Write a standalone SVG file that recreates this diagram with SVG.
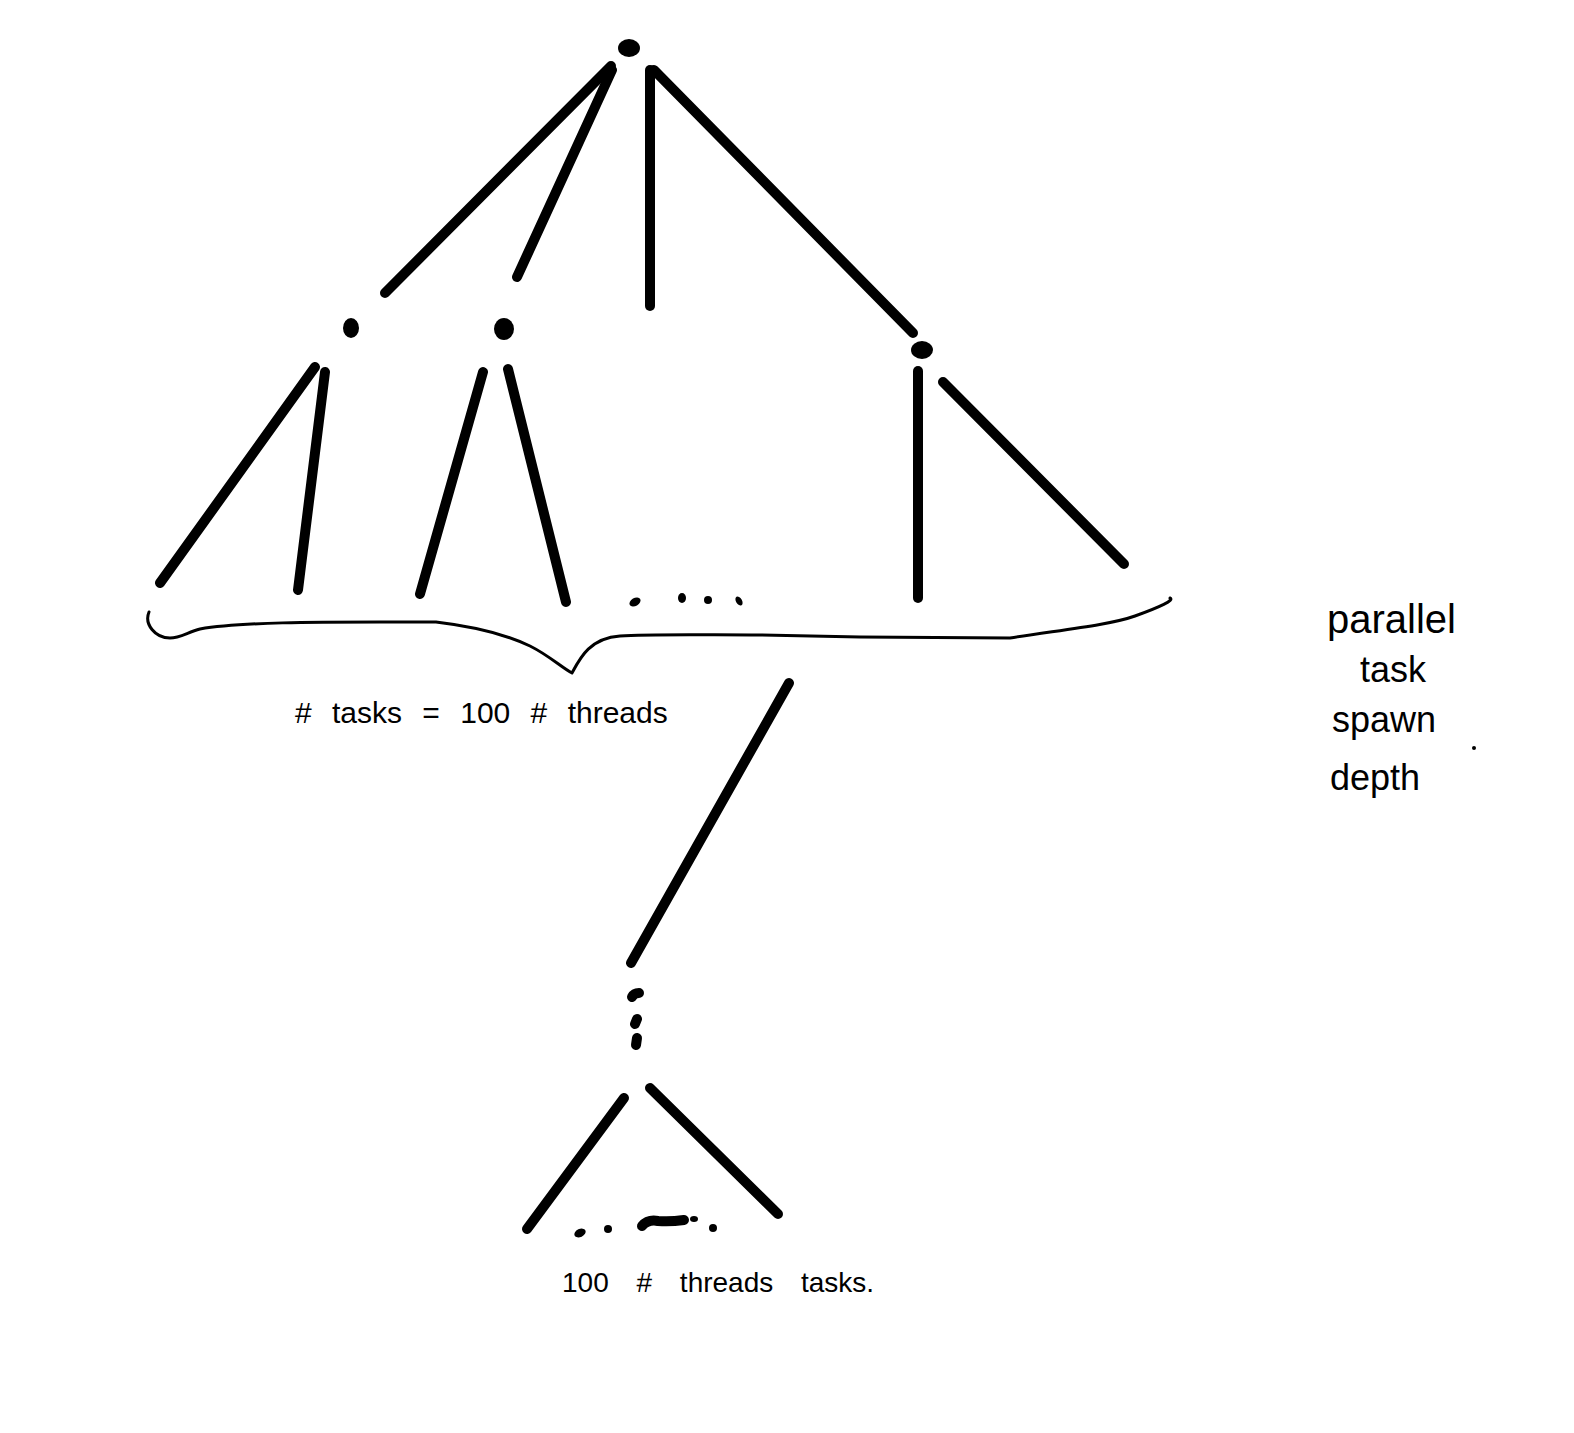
<svg xmlns="http://www.w3.org/2000/svg" width="1574" height="1433" viewBox="0 0 1574 1433">
<style>
.e{stroke:#000;stroke-width:10;stroke-linecap:round;fill:none}
.b{stroke:#000;stroke-width:3;fill:none;stroke-linecap:round;stroke-linejoin:round}
.t{font-family:"Liberation Sans",sans-serif;fill:#000}
</style>
<rect width="1574" height="1433" fill="#fff"/>
<g id="edges">
<line class="e" x1="611" y1="66" x2="385" y2="293"/>
<line class="e" x1="612" y1="70" x2="517" y2="277"/>
<line class="e" x1="650" y1="70" x2="650" y2="306"/>
<line class="e" x1="654" y1="70" x2="913" y2="333"/>
<line class="e" x1="315" y1="367" x2="160" y2="583"/>
<line class="e" x1="325" y1="372" x2="298" y2="590"/>
<line class="e" x1="483" y1="372" x2="420" y2="594"/>
<line class="e" x1="508" y1="369" x2="566" y2="602"/>
<line class="e" x1="918" y1="371" x2="918" y2="598"/>
<line class="e" x1="943" y1="382" x2="1124" y2="564"/>
<line class="e" x1="789" y1="683" x2="631" y2="963"/>
<line class="e" x1="624" y1="1098" x2="527" y2="1229"/>
<line class="e" x1="650" y1="1088" x2="778" y2="1214"/>
</g>
<g id="node-root"><ellipse cx="629" cy="48" rx="11" ry="9"/></g>
<g id="node-a"><ellipse cx="351" cy="328" rx="8" ry="10"/></g>
<g id="node-b"><ellipse cx="504" cy="329" rx="10" ry="11"/></g>
<g id="node-c"><ellipse cx="922" cy="350" rx="11" ry="9"/></g>
<g id="dots-mid">
<ellipse cx="635" cy="602" rx="6" ry="4" transform="rotate(-30 635 602)"/>
<ellipse cx="682" cy="598" rx="4" ry="5"/>
<ellipse cx="708" cy="600" rx="4" ry="4"/>
<ellipse cx="739" cy="601" rx="3" ry="5" transform="rotate(-30 739 601)"/>
</g>
<g id="brace">
<path class="b" d="M149 612 C144 624 155 638 170 638 C180 638 188 632 200 629 C240 622 320 622 380 622 L436 622 C470 626 505 634 530 646 C550 656 562 668 572 673 C580 658 590 638 620 636 C650 634 700 635 760 635 L860 637 L1010 638 C1060 630 1110 625 1135 616 C1160 607 1175 600 1170 598"/>
</g>
<g id="dots-vert">
<path class="e" d="M632 997 Q634 993 639 993" stroke-width="7"/>
<line class="e" x1="637" y1="1019" x2="635" y2="1024" stroke-width="7"/>
<line class="e" x1="637" y1="1038" x2="636" y2="1045" stroke-width="7"/>
</g>
<g id="dots-bottom">
<ellipse cx="580" cy="1233" rx="6" ry="4" transform="rotate(-25 580 1233)"/>
<ellipse cx="608" cy="1229" rx="4" ry="4"/>
<path class="e" d="M642 1226 Q648 1219 658 1221 Q670 1222 684 1220" stroke-width="6"/>
<ellipse cx="694" cy="1219" rx="4" ry="3"/>
<ellipse cx="713" cy="1228" rx="4" ry="4"/>
</g>
<g id="labels">
<text class="t" x="295" y="723" font-size="30" word-spacing="12">#  tasks  =  100 # threads</text>
<text class="t" x="562" y="1292" font-size="28" word-spacing="20">100 # threads  tasks.</text>
<text class="t" x="1327" y="633" font-size="40">parallel</text>
<text class="t" x="1360" y="682" font-size="36">task</text>
<text class="t" x="1332" y="732" font-size="36">spawn</text>
<circle cx="1474" cy="748" r="2"/>
<text class="t" x="1330" y="790" font-size="36">depth</text>
</g>
</svg>
